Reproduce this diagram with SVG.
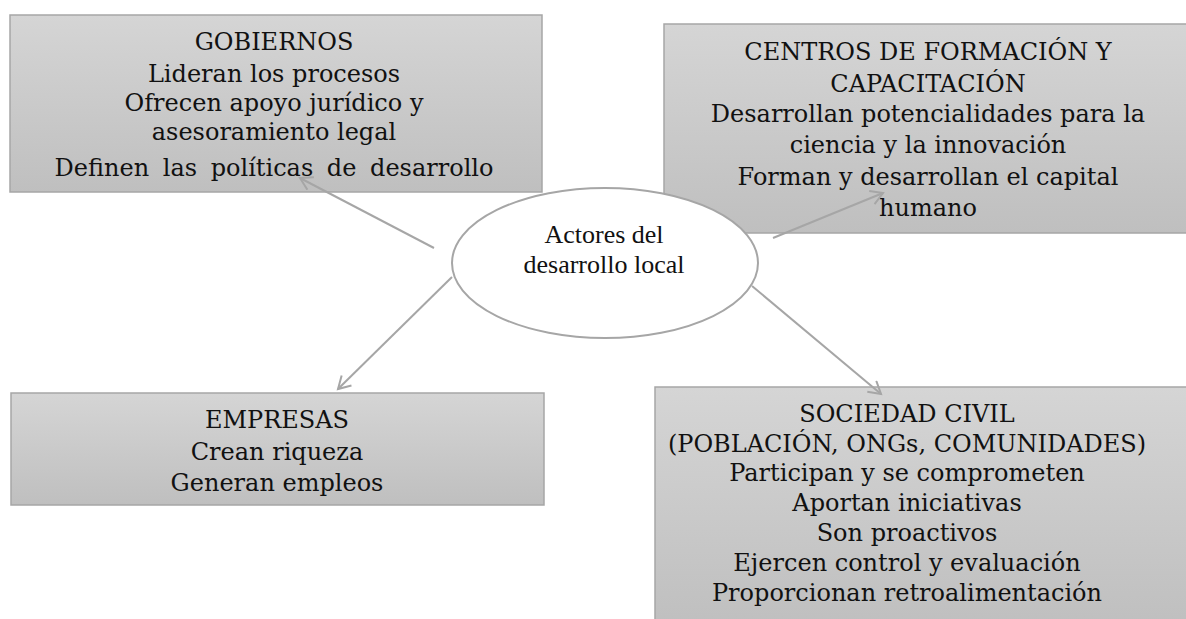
<svg xmlns="http://www.w3.org/2000/svg" width="1186" height="619" viewBox="0 0 1186 619">
  <style>
    .box { stroke: #a6a6a6; stroke-width: 1.5; fill: url(#grad); }
    .t { font-family: "DejaVu Serif", "Liberation Serif", serif; font-size: 24px; fill: #111; text-anchor: middle; }
    .et { font-family: "Liberation Serif", "Times New Roman", serif; font-size: 26px; fill: #111; text-anchor: middle; }
    .conn { stroke: #a6a6a6; stroke-width: 2; fill: none; marker-end: url(#arr); }
  </style>
  <defs>
    <linearGradient id="grad" x1="0" y1="0" x2="0" y2="1">
      <stop offset="0" stop-color="#d5d5d5"/>
      <stop offset="1" stop-color="#bfbfbf"/>
    </linearGradient>
    <marker id="arr" markerUnits="userSpaceOnUse" markerWidth="20" markerHeight="20" refX="13" refY="8" orient="auto">
      <path d="M1,1 L13,8 L1,15" fill="none" stroke="#a6a6a6" stroke-width="2" stroke-linejoin="miter"/>
    </marker>
  </defs>

  <g id="gobiernos">
    <rect class="box" x="10" y="15" width="532" height="177"/>
    <text class="t" x="274" y="50">GOBIERNOS</text>
    <text class="t" x="274" y="82">Lideran los procesos</text>
    <text class="t" x="274" y="111">Ofrecen apoyo jurídico y</text>
    <text class="t" x="274" y="140">asesoramiento legal</text>
    <text class="t" x="274" y="176" word-spacing="6">Definen las políticas de desarrollo</text>
  </g>

  <g id="centros">
    <rect class="box" x="664" y="24" width="530" height="209"/>
    <text class="t" x="928" y="60">CENTROS DE FORMACIÓN Y</text>
    <text class="t" x="928" y="92">CAPACITACIÓN</text>
    <text class="t" x="928" y="122">Desarrollan potencialidades para la</text>
    <text class="t" x="928" y="153">ciencia y la innovación</text>
    <text class="t" x="928" y="185">Forman y desarrollan el capital</text>
    <text class="t" x="928" y="216">humano</text>
  </g>

  <g id="empresas">
    <rect class="box" x="11" y="393" width="533" height="112"/>
    <text class="t" x="277" y="428">EMPRESAS</text>
    <text class="t" x="277" y="460">Crean riqueza</text>
    <text class="t" x="277" y="491">Generan empleos</text>
  </g>

  <g id="sociedad">
    <rect class="box" x="655" y="387" width="540" height="240"/>
    <text class="t" x="907" y="422">SOCIEDAD CIVIL</text>
    <text class="t" x="907" y="452">(POBLACIÓN, ONGs, COMUNIDADES)</text>
    <text class="t" x="907" y="481">Participan y se comprometen</text>
    <text class="t" x="907" y="511">Aportan iniciativas</text>
    <text class="t" x="907" y="541">Son proactivos</text>
    <text class="t" x="907" y="571">Ejercen control y evaluación</text>
    <text class="t" x="907" y="601">Proporcionan retroalimentación</text>
  </g>

  <g id="connectors">
    <line class="conn" x1="434" y1="248" x2="300" y2="178"/>
    <line class="conn" x1="773" y1="238" x2="883" y2="193"/>
    <line class="conn" x1="452" y1="277" x2="338" y2="389"/>
    <line class="conn" x1="752" y1="286" x2="881" y2="394"/>
  </g>

  <g id="actores">
    <ellipse cx="605" cy="263" rx="153" ry="75" fill="#ffffff" stroke="#a6a6a6" stroke-width="2"/>
    <text class="et" x="604" y="243">Actores del</text>
    <text class="et" x="604" y="273">desarrollo local</text>
  </g>
</svg>
